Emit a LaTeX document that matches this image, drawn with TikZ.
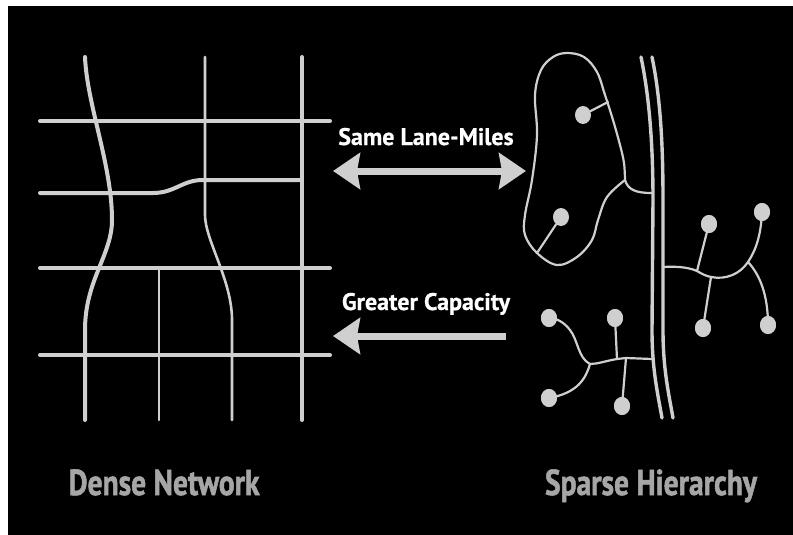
\documentclass[tikz,border=0pt]{standalone}
\usepackage{fontspec}
\setmainfont{PT Sans}
\newfontfamily\captionfont[BoldFeatures={FakeBold=1.6}]{PT Sans}
\newfontfamily\arrowfont[BoldFeatures={FakeBold=0.6}]{PT Sans}
\usetikzlibrary{arrows.meta,shapes.geometric}
\definecolor{road}{HTML}{CFCFCF}
\definecolor{labelgray}{HTML}{A6A6A6}
\tikzset{
  majorroad/.style={draw=road, line width=4pt, line cap=round},
  minorroad/.style={draw=road, line width=2.6pt, line cap=round},
  freeway/.style={draw=road, line width=3.4pt, line cap=round},
  local/.style={draw=road, line width=2.2pt, line cap=round, line join=round},
  spot/.style={fill=road, draw=none, ellipse, inner sep=0pt, minimum width=16pt, minimum height=18pt},
  bigarrow/.style={draw=road, line width=7pt},
  bigtip/.tip={Stealth[length=27pt, width=36pt, inset=3pt]},
  toplabel/.style={text=white, font=\arrowfont\bfseries\fontsize{24}{26}\selectfont, anchor=base},
  bottomlabel/.style={text=labelgray, font=\captionfont\bfseries\fontsize{36}{40}\selectfont, anchor=base}
}
\begin{document}
\begin{tikzpicture}[x=1pt, y=-1pt]
  \useasboundingbox (0,0) rectangle (793,535);
  \fill[white] (0,0) rectangle (793,535);
  \fill[black] (8,6) rectangle (793,535);

  % ---------- dense network ----------
  \draw[majorroad] (40,121) -- (330,121);
  \draw[majorroad] (40,193) -- (153,193) .. controls (175,193) and (182,180) .. (203,180) -- (300,180);
  \draw[majorroad] (40,268) -- (330,268);
  \draw[majorroad] (40,355) -- (330,355);
  \draw[majorroad] (85,57) .. controls (87,105) and (112,165) .. (112,220)
                   .. controls (112,255) and (85,280) .. (85,330) -- (85,420);
  \draw[minorroad] (205,57) -- (205,215) .. controls (205,240) and (232,280) .. (232,320) -- (232,420);
  \draw[majorroad] (302,57) -- (302,420);
  \draw[minorroad] (159,268) -- (159,420);

  % ---------- arrows ----------
  \coordinate (sameL) at (333,171);
  \coordinate (sameR) at (526,171);
  \coordinate (capL) at (333,336);
  \coordinate (capR) at (506,336);
  \draw[bigarrow, {bigtip}-{bigtip}] (sameL) -- (sameR);
  \draw[bigarrow, {bigtip}-] (capL) -- (capR);
  \node[toplabel] (samelbl) at (426,145) {Same Lane-Miles};
  \node[toplabel] (caplbl) at (426,310) {Greater Capacity};

  % ---------- sparse hierarchy ----------
  \draw[freeway] (641,57) .. controls (650,100) and (653,150) .. (653,200) -- (652,330)
                 .. controls (652,370) and (658,395) .. (662,418);
  \draw[freeway] (652,57) .. controls (661,100) and (663,150) .. (663,200) -- (663,330)
                 .. controls (663,370) and (669,395) .. (673,418);

  % blob
  \draw[local] plot[smooth, tension=0.6] coordinates {(625,180) (607,197) (598,220) (592,240) (577,257)
     (557,265) (537,253) (525,235) (525,215) (532,180) (537,135) (535,95) (541,70) (553,57) (567,53)
     (584,57) (597,72) (605,95) (613,120) (620,145) (624,163) (625,180)};
  \coordinate (blobJ) at (625,180);
  \coordinate (fwA) at (652,193);
  \draw[local] (blobJ) .. controls (628,190) and (636,193) .. (fwA);
  \node[spot] (b1) at (583,115) {};
  \node[spot] (b2) at (561,217) {};
  \coordinate (b1e) at (608,102);
  \coordinate (b2e) at (537,253);
  \draw[local] (b1) -- (b1e);
  \draw[local] (b2) -- (b2e);

  % right tree
  \node[spot] (r1) at (709,224) {};
  \node[spot] (r2) at (762,212) {};
  \node[spot] (r3) at (703,328) {};
  \node[spot] (r4) at (768,325) {};
  \coordinate (fwB) at (663,267);
  \coordinate (rj1) at (697,271);
  \coordinate (rj2) at (711,277);
  \coordinate (rj3) at (748,262);
  \draw[local] (fwB) .. controls (680,266) and (690,268) .. (rj1)
               .. controls (702,274) and (706,276) .. (rj2)
               .. controls (726,280) and (740,274) .. (rj3);
  \draw[local] (rj3) .. controls (756,250) and (761,235) .. (r2.center);
  \draw[local] (rj3) .. controls (760,275) and (768,295) .. (r4.center);
  \draw[local] (rj1) -- (r1.center);
  \draw[local] (rj2) -- (r3.center);
  \node[spot] at (r1) {};
  \node[spot] at (r2) {};
  \node[spot] at (r3) {};
  \node[spot] at (r4) {};

  % left tree
  \node[spot] (l1) at (549,318) {};
  \node[spot] (l2) at (615,318) {};
  \node[spot] (l3) at (549,398) {};
  \node[spot] (l4) at (622,406) {};
  \coordinate (fwC) at (652,359);
  \coordinate (lj1) at (626,358);
  \coordinate (lj2) at (617,359);
  \coordinate (lj3) at (590,364);
  \draw[local] (fwC) -- (lj1) -- (lj2) .. controls (605,361) and (598,364) .. (lj3);
  \draw[local] (lj3) .. controls (578,358) and (578,340) .. (570,330)
               .. controls (564,322) and (556,318) .. (l1.center);
  \draw[local] (lj3) .. controls (586,378) and (578,393) .. (l3.center);
  \draw[local] (lj2) -- (l2.center);
  \draw[local] (lj1) -- (l4.center);
  \node[spot] at (l1) {};
  \node[spot] at (l2) {};
  \node[spot] at (l3) {};
  \node[spot] at (l4) {};

  % ---------- captions ----------
  \node[bottomlabel] (dense) at (164,495) {\scalebox{0.82}[1]{Dense Network}};
  \node[bottomlabel] (sparse) at (651,495) {\scalebox{0.82}[1]{Sparse Hierarchy}};
\end{tikzpicture}
\end{document}
